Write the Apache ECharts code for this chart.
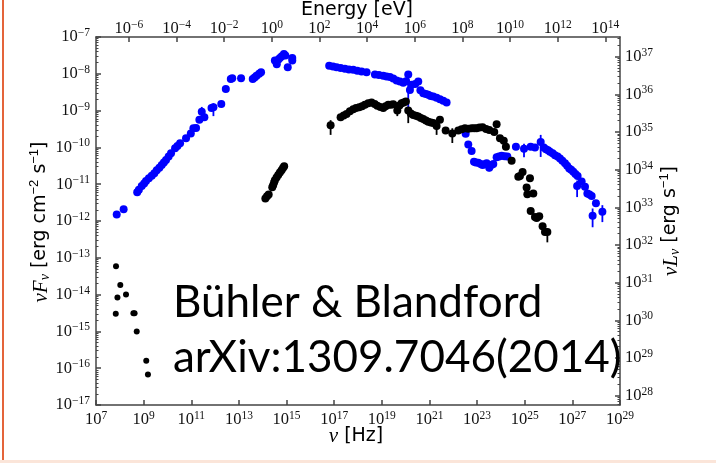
<!DOCTYPE html>
<html><head><meta charset="utf-8">
<script src="https://cdn.jsdelivr.net/npm/echarts@6/dist/echarts.min.js"></script>
<style>html,body{margin:0;padding:0;background:#fff}#c{width:716px;height:463px}</style>
</head><body><div id="c"></div>
<script>
// All values are log10: x = log10(nu / Hz), y = log10(nuF_nu / erg cm^-2 s^-1)
const LOG_H_EV = Math.log10(4.135667e-15); // E[eV] = h nu

const nebulaPoints = [
  [7.87,-11.82],[8.16,-11.68],[8.73,-11.22],[8.80,-11.15],[8.92,-11.05],[9.02,-10.98],[9.10,-10.91],[9.22,-10.84],
  [9.34,-10.77],[9.45,-10.70],[9.55,-10.62],[9.66,-10.55],[9.76,-10.48],[9.85,-10.41],[9.94,-10.34],[10.05,-10.25],
  [10.15,-10.16],[10.32,-10.02],[10.42,-9.96],[10.53,-9.89],[10.78,-9.75],[10.98,-9.62],[11.09,-9.48],[11.20,-9.47],
  [11.34,-9.25],[11.44,-9.03],[11.55,-9.18],[11.85,-8.93],[11.93,-8.91],[12.26,-8.82],[12.45,-8.41],[12.66,-8.14],
  [12.72,-8.12],[13.09,-8.12],[13.58,-8.14],[13.66,-8.10],[13.74,-8.05],[13.85,-8.00],[13.93,-7.96],[14.51,-7.64],
  [14.59,-7.74],[14.65,-7.62],[14.72,-7.57],[14.80,-7.52],[14.89,-7.46],[14.95,-7.50],[15.05,-7.82],[15.24,-7.57],[15.24,-7.64],
  [16.79,-7.78],[16.95,-7.80],[17.10,-7.82],[17.27,-7.84],[17.45,-7.86],[17.62,-7.88],[17.80,-7.89],[17.97,-7.92],
  [18.15,-7.94],[18.36,-7.96],
  [18.71,-8.02],[18.88,-8.03],[19.06,-8.05],[19.20,-8.07],[19.34,-8.09],[19.48,-8.13],[19.62,-8.18],[19.76,-8.21],
  [19.90,-8.24],[20.02,-8.20],[20.11,-8.02],[20.18,-8.44],[20.25,-8.30],[20.40,-8.28],[20.53,-8.21],[20.62,-8.45],
  [20.74,-8.53],[20.85,-8.55],[20.95,-8.57],[21.05,-8.60],[21.16,-8.62],[21.30,-8.65],[21.44,-8.69],[21.58,-8.73],[21.72,-8.78],
  [22.52,-9.63],[22.63,-9.92],[22.77,-10.10],[22.87,-10.39],[22.95,-10.41],[23.05,-10.42],[23.15,-10.45],[23.23,-10.48],
  [23.32,-10.46],[23.40,-10.43],[23.51,-10.55],[23.60,-10.48],[23.68,-10.45],[23.82,-10.27],[23.92,-10.25],[24.03,-10.23],
  [24.15,-10.24],[24.27,-10.25],
  [24.63,-9.98],[24.97,-10.04],[25.25,-9.98],[25.43,-10.00],[25.67,-9.85],[25.80,-10.00],[25.89,-10.05],[25.98,-10.08],
  [26.06,-10.12],[26.17,-10.16],[26.27,-10.21],[26.38,-10.25],[26.48,-10.30],[26.58,-10.36],[26.69,-10.43],[26.78,-10.50],
  [26.87,-10.57],[26.95,-10.61],[27.04,-10.66],[27.13,-10.72],[27.22,-10.78],[27.20,-11.05],[27.39,-10.93],[27.53,-11.07],
  [27.63,-11.25],[27.72,-11.28],[27.81,-11.32],[27.99,-11.52],[27.85,-11.86],[28.26,-11.75]
];

const pulsarRadioPoints = [
  [7.84,-13.23],[8.02,-13.74],[7.90,-14.08],[8.26,-14.00],[7.83,-14.52],[8.57,-14.51],[8.62,-14.51],[8.71,-15.00],
  [9.11,-15.80],[9.18,-16.17]
];

const pulsarPoints = [
  [14.11,-11.39],[14.18,-11.33],[14.25,-11.28],[14.40,-11.08],[14.44,-11.02],[14.48,-10.95],[14.51,-10.89],[14.58,-10.82],
  [14.65,-10.75],[14.72,-10.68],[14.79,-10.62],[14.85,-10.56],[14.90,-10.51],
  [16.85,-9.40],[17.27,-9.18],[17.40,-9.13],[17.52,-9.09],[17.66,-9.02],[17.80,-8.96],[17.92,-8.93],[18.05,-8.91],
  [18.17,-8.88],[18.29,-8.84],[18.43,-8.80],[18.57,-8.78],[18.70,-8.82],[18.81,-8.87],[18.94,-8.90],[19.06,-8.93],
  [19.16,-8.88],[19.27,-8.84],[19.38,-8.84],[19.48,-8.83],[19.65,-9.00],[19.74,-8.86],[19.83,-8.80],[19.92,-8.78],
  [20.01,-8.75],[20.11,-9.00],[20.22,-9.08],[20.32,-9.12],[20.43,-9.14],[20.53,-9.16],[20.64,-9.20],[20.74,-9.23],
  [20.85,-9.27],[20.95,-9.30],[21.06,-9.32],[21.16,-9.34],[21.30,-9.42],[21.44,-9.25],[21.68,-9.54],[21.96,-9.62],
  [22.21,-9.54],[22.35,-9.51],[22.49,-9.48],[22.63,-9.49],[22.77,-9.48],[22.88,-9.48],[22.98,-9.48],[23.10,-9.46],
  [23.23,-9.45],[23.38,-9.50],[23.51,-9.53],[23.72,-9.58],[23.82,-9.37],[23.96,-9.75],[24.12,-9.82],[24.21,-9.98],
  [24.45,-10.36],[24.73,-10.80],[24.80,-10.78],[24.91,-10.67],[25.22,-10.84],[25.08,-11.09],[25.11,-11.27],[25.36,-11.25],
  [25.25,-11.73],[25.43,-11.89],[25.50,-11.92],[25.61,-11.87],[25.75,-12.14],[25.85,-12.30],[25.95,-12.30]
];

// error bars: [log nu, log low, log high]
const nebulaErrors = [
  [11.44,-9.30,-8.90],[11.93,-9.15,-8.80],[20.11,-8.98,-7.98],[23.51,-10.65,-10.45],[24.97,-10.27,-9.90],
  [25.67,-10.26,-9.66],[27.20,-11.35,-10.90],[27.85,-12.17,-11.66],[28.26,-12.03,-11.57]
];
const pulsarErrors = [
  [16.85,-9.66,-9.26],[19.65,-9.15,-8.95],[20.11,-9.34,-8.93],[21.30,-9.66,-9.31],[21.96,-9.88,-9.48],[25.95,-12.58,-12.20]
];

// tick label exponents
const freqTickExps = [7,9,11,13,15,17,19,21,23,25,27,29];
const energyTickExps = [-6,-4,-2,0,2,4,6,8,10,12,14];
const fluxTickExps = [-17,-16,-15,-14,-13,-12,-11,-10,-9,-8,-7];
const lumTickExps = [28,29,30,31,32,33,34,35,36,37];
const LUM_MIN = 27.753, LUM_MAX = 37.523;

function minorTicks(lo, hi) {
  const out = [];
  for (let n = Math.floor(lo); n < hi; n++) {
    for (let k = 2; k <= 9; k++) {
      const v = n + Math.log10(k);
      if (v > lo && v < hi) out.push(v);
    }
  }
  return out;
}

const SERIF = '"Liberation Serif", "DejaVu Serif", serif';
const SANS = '"DejaVu Sans", sans-serif';
const supRich = {
  b: { fontFamily: SERIF, fontSize: 16.5, lineHeight: 20, color: '#111' },
  s: { fontFamily: SERIF, fontSize: 11.5, lineHeight: 12, verticalAlign: 'top', color: '#111' }
};
function expLabel(v) {
  const e = Math.round(v);
  return '{b|10}{s|' + (e < 0 ? '\u2212' + (-e) : e) + '}';
}
const axisLineStyle = { color: '#444', width: 1.5 };

function errSeries(name, data, color) {
  return {
    type: 'custom', name: name, xAxisIndex: 0, yAxisIndex: 0, z: 1,
    data: data,
    renderItem: function (params, api) {
      const p1 = api.coord([api.value(0), api.value(1)]);
      const p2 = api.coord([api.value(0), api.value(2)]);
      return { type: 'line', shape: { x1: p1[0], y1: p1[1], x2: p2[0], y2: p2[1] },
               style: { stroke: color, lineWidth: 1.8 } };
    }
  };
}

const chart = echarts.init(document.getElementById('c'), null, { renderer: 'canvas' });
chart.setOption({
  animation: false,
  backgroundColor: '#fff',
  grid: { left: 96, right: 96, top: 37, bottom: 58, containLabel: false },
  xAxis: [
    { type: 'value', position: 'bottom', min: 7, max: 29,
      axisLine: { onZero: false, lineStyle: axisLineStyle },
      axisTick: { inside: true, length: 5, lineStyle: axisLineStyle, customValues: freqTickExps },
      axisLabel: { customValues: freqTickExps, margin: 5, formatter: expLabel, rich: supRich },
      splitLine: { show: false } },
    { type: 'value', position: 'top', min: 7 + LOG_H_EV, max: 29 + LOG_H_EV,
      axisLine: { onZero: false, lineStyle: axisLineStyle },
      axisTick: { inside: true, length: 5, lineStyle: axisLineStyle, customValues: energyTickExps },
      axisLabel: { customValues: energyTickExps, margin: -2, formatter: expLabel, rich: supRich },
      splitLine: { show: false } }
  ],
  yAxis: [
    { type: 'value', position: 'left', min: -17, max: -7, interval: 1,
      axisLine: { onZero: false, lineStyle: axisLineStyle },
      axisTick: { inside: true, length: 5, lineStyle: axisLineStyle, customValues: fluxTickExps },
      axisLabel: { customValues: fluxTickExps, margin: 6, formatter: expLabel, rich: supRich },
      splitLine: { show: false } },
    { type: 'value', position: 'right', min: LUM_MIN, max: LUM_MAX,
      axisLine: { onZero: false, lineStyle: axisLineStyle },
      axisTick: { inside: true, length: 5, lineStyle: axisLineStyle, customValues: lumTickExps },
      axisLabel: { customValues: lumTickExps, margin: 5, formatter: expLabel, rich: supRich },
      splitLine: { show: false } },
    { type: 'value', position: 'left', min: -17, max: -7,
      axisLine: { show: false, onZero: false },
      axisTick: { inside: true, length: 2.5, lineStyle: { color: '#444', width: 1 }, customValues: minorTicks(-17, -7) },
      axisLabel: { show: false }, splitLine: { show: false } },
    { type: 'value', position: 'right', min: LUM_MIN, max: LUM_MAX,
      axisLine: { show: false, onZero: false },
      axisTick: { inside: true, length: 2.5, lineStyle: { color: '#444', width: 1 }, customValues: minorTicks(LUM_MIN, LUM_MAX) },
      axisLabel: { show: false }, splitLine: { show: false } }
  ],
  series: [
    errSeries('nebulaErr', nebulaErrors, '#0000ff'),
    errSeries('pulsarErr', pulsarErrors, '#000000'),
    { type: 'scatter', name: 'nebula', data: nebulaPoints, symbolSize: 8, z: 2,
      itemStyle: { color: '#0000ff', opacity: 1 } },
    { type: 'scatter', name: 'pulsar', data: pulsarPoints, symbolSize: 8, z: 3,
      itemStyle: { color: '#000000', opacity: 1 } },
    { type: 'scatter', name: 'pulsarRadio', data: pulsarRadioPoints, symbolSize: 6, z: 3,
      itemStyle: { color: '#000000', opacity: 1 } }
  ],
  graphic: [
    { type: 'rect', shape: { x: 2, y: 0, width: 2, height: 461 }, style: { fill: '#e4643a' }, silent: true },
    { type: 'rect', shape: { x: 0, y: 460, width: 716, height: 3 }, style: { fill: '#fbe5d9' }, silent: true },
    { type: 'text', x: 357, y: 10, silent: true,
      style: { text: 'Energy [eV]', font: '19px ' + SANS, fill: '#000', align: 'center', verticalAlign: 'middle' } },
    { type: 'text', x: 356, y: 436, silent: true,
      style: { text: '{i|\u03bd} [Hz]', font: '19px ' + SANS, fill: '#000', align: 'center', verticalAlign: 'middle',
        rich: { i: { fontFamily: SERIF, fontStyle: 'italic', fontSize: 21 } } } },
    { type: 'text', x: 40, y: 222, rotation: Math.PI / 2, silent: true,
      style: { text: '{i|\u03bdF}{sub|\u03bd} [erg cm{sup|\u22122} s{sup|\u22121}]', font: '19px ' + SANS, fill: '#000',
        align: 'center', verticalAlign: 'middle',
        rich: { i: { fontFamily: SERIF, fontStyle: 'italic', fontSize: 21, lineHeight: 24, verticalAlign: 'bottom' },
                sub: { fontFamily: SERIF, fontStyle: 'italic', fontSize: 14, lineHeight: 14, verticalAlign: 'bottom' },
                sup: { fontSize: 13, lineHeight: 13, verticalAlign: 'top' } } } },
    { type: 'text', x: 670, y: 221, rotation: Math.PI / 2, silent: true,
      style: { text: '{i|\u03bdL}{sub|\u03bd} [erg s{sup|\u22121}]', font: '19px ' + SANS, fill: '#000',
        align: 'center', verticalAlign: 'middle',
        rich: { i: { fontFamily: SERIF, fontStyle: 'italic', fontSize: 21, lineHeight: 24, verticalAlign: 'bottom' },
                sub: { fontFamily: SERIF, fontStyle: 'italic', fontSize: 14, lineHeight: 14, verticalAlign: 'bottom' },
                sup: { fontSize: 13, lineHeight: 13, verticalAlign: 'top' } } } },
    { type: 'text', x: 173, y: 303, silent: true, z: 10,
      style: { text: 'B\u00fchler & Blandford', font: '44px Lato, "Open Sans", sans-serif', fill: '#000',
        align: 'left', verticalAlign: 'middle' } },
    { type: 'text', x: 173, y: 358, silent: true, z: 10,
      style: { text: 'arXiv:1309.7046(2014)', font: '44px Lato, "Open Sans", sans-serif', fill: '#000',
        align: 'left', verticalAlign: 'middle' } }
  ]
});
</script></body></html>
